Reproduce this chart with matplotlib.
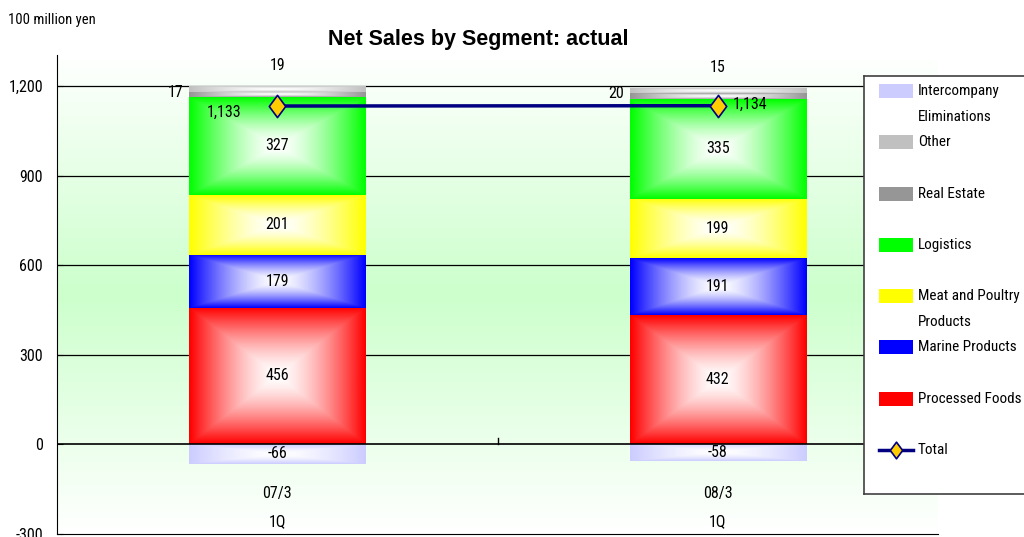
import numpy as np
import matplotlib
matplotlib.use("Agg")
import matplotlib.pyplot as plt
from matplotlib.path import Path
from matplotlib import font_manager

# data (100 million yen)
categories = ["07/3\n1Q", "08/3\n1Q"]
processed_foods = [456, 432]
marine_products = [179, 191]
meat_poultry = [201, 199]
logistics = [327, 335]
real_estate = [17, 20]
other = [19, 15]
intercompany = [-66, -58]
total = [1133, 1134]
yticks = [-300, 0, 300, 600, 900, 1200]

colors = ["#FF0000", "#0000FF", "#FFFF00", "#00FF00", "#969696", "#C0C0C0"]
inter_color = "#CCCCFF"

# a narrow sans font, like the Arial Narrow of the original
names = set(f.name for f in font_manager.fontManager.ttflist)
narrow = "DejaVu Sans"
for cand in ["Arial Narrow", "Liberation Sans Narrow", "Roboto Condensed",
             "Archivo Narrow", "Asap Condensed", "Liberation Sans"]:
    if cand in names:
        narrow = cand
        break
plt.rcParams['font.family'] = [narrow, 'DejaVu Sans']
lab_fs = 11.5 if narrow not in ("Liberation Sans", "DejaVu Sans") else 9.5


def box_gradient(color, n=120):
    # Excel style "from center" fill: edge colour outside, white in the middle
    u = np.linspace(-1, 1, n)
    uu, vv = np.meshgrid(u, u)
    t = np.maximum(np.abs(uu), np.abs(vv)) ** 1.5
    rgb = np.array(matplotlib.colors.to_rgb(color))
    img = (1 - t)[..., None] * np.ones(3) + t[..., None] * rgb
    return img


def fill_patch(ax, patch, color):
    x0, y0 = patch.get_x(), patch.get_y()
    w, h = patch.get_width(), patch.get_height()
    im = ax.imshow(box_gradient(color), extent=(x0, x0 + w, y0, y0 + h),
                   aspect='auto', zorder=3, interpolation='bilinear')
    im.set_clip_path(patch)


W, H = 1024, 537
fig = plt.figure(figsize=(W / 100, H / 100), dpi=100)
ax = fig.add_axes([57 / W, (H - 533.5) / H, (938 - 57) / W, (533.5 - 55) / H])
ax.set_xlim(-0.5, 1.5)
ax.set_ylim(-300, 1304)

# background: light green in the middle, white at top and bottom
v = np.abs(np.linspace(-1, 1, 200))[:, None]
bg = (1 - v)[..., None] * np.array(matplotlib.colors.to_rgb("#CCFFCC")) + v[..., None] * np.ones(3)
bg = np.repeat(bg, 2, axis=1)
ax.imshow(bg, extent=(0, 1, 0, 1), transform=ax.transAxes, aspect='auto', zorder=0)

for y in yticks[2:]:
    ax.axhline(y, color="black", lw=0.9, zorder=1)
ax.axhline(0, color="black", lw=1.2, zorder=5)

x = np.arange(len(categories))
width = 0.4
series = [processed_foods, marine_products, meat_poultry, logistics, real_estate, other]
bottom = np.zeros(len(categories))
mids = []
for vals, col in zip(series, colors):
    bars = ax.bar(x, vals, width, bottom=bottom, color=col, linewidth=0, zorder=2)
    for b in bars:
        fill_patch(ax, b, col)
    mids.append(bottom + np.array(vals) / 2)
    bottom = bottom + np.array(vals)
inter_bars = ax.bar(x, intercompany, width, color=inter_color, linewidth=0, zorder=2)
for b in inter_bars:
    fill_patch(ax, b, inter_color)

# values inside the main segments
for vals, m in zip(series[:4], mids[:4]):
    for i in range(len(x)):
        ax.text(x[i], m[i], f"{vals[i]}", ha='center', va='center', fontsize=lab_fs, zorder=6)
for i in range(len(x)):
    ax.text(x[i], intercompany[i] / 2, f"{intercompany[i]}", ha='center', va='center',
            fontsize=lab_fs, zorder=6)
    # real estate label left of the bar
    ax.annotate(f"{real_estate[i]}", (x[i] - width / 2, mids[4][i]), xytext=(-6, 2),
                textcoords='offset pixels', ha='right', va='center', fontsize=lab_fs, zorder=6)
    # other label above the bar
    ax.annotate(f"{other[i]}", (x[i], bottom[i]), xytext=(0, 21),
                textcoords='offset pixels', ha='center', va='center', fontsize=lab_fs, zorder=6)

# total line
diamond = Path([(0, 1), (0.74, 0), (0, -1), (-0.74, 0), (0, 1)],
               [Path.MOVETO, Path.LINETO, Path.LINETO, Path.LINETO, Path.CLOSEPOLY])
ax.plot(x, total, color="#000080", lw=2.5, marker=diamond, ms=16,
        mfc="#FFCC00", mec="#000080", mew=1.2, zorder=7)
tot_offsets = [(-53, -6), (32, 1)]
for i in range(len(x)):
    ax.annotate(f"{total[i]:,}", (x[i], total[i]), xytext=tot_offsets[i],
                textcoords='offset pixels', ha='center', va='center', fontsize=lab_fs, zorder=8)

# category labels inside the plot, below zero
for i, c in enumerate(categories):
    top_line, bot_line = c.split("\n")
    ax.text(x[i], -165, top_line, ha='center', va='center', fontsize=lab_fs, zorder=6)
    ax.text(x[i], -260, bot_line, ha='center', va='center', fontsize=lab_fs, zorder=6)
ax.plot([0.5, 0.5], [0, 20], color="black", lw=1, zorder=5)

ax.set_xticks([])
ax.set_yticks(yticks)
ax.set_yticklabels([f"{t:,}" for t in yticks], fontsize=lab_fs)
ax.tick_params(axis='y', direction='in', length=4, pad=10)
for s in ['top', 'right']:
    ax.spines[s].set_visible(False)

fig.text(478 / W, 1 - 40 / H, "Net Sales by Segment: actual", ha='center', va='center',
         fontsize=15.5, fontweight='bold', family=['Liberation Sans', 'DejaVu Sans'])
fig.text(8 / W, 1 - 20 / H, "100 million yen", ha='left', va='center', fontsize=lab_fs - 1)

# legend box drawn in pixel coordinates
leg_fs = lab_fs - 0.6
lg = fig.add_axes([864 / W, (H - 494) / H, (1040 - 864) / W, (494 - 76) / H])
lg.set_xticks([])
lg.set_yticks([])
lg.set_facecolor('white')
for s in lg.spines.values():
    s.set_color('#404040')
    s.set_linewidth(1.2)
leg_names = ["Intercompany\nEliminations", "Other", "Real Estate", "Logistics",
             "Meat and Poultry\nProducts", "Marine Products", "Processed Foods"]
leg_colors = [inter_color] + colors[::-1]
for k, (nm, col) in enumerate(zip(leg_names, leg_colors)):
    yc = 91 + k * 51.3
    r = matplotlib.patches.Rectangle((879, yc - 7), 34, 14, color=col, lw=0)
    lg.add_patch(r)
    im = lg.imshow(box_gradient(col), extent=(879, 913, yc + 7, yc - 7), aspect='auto',
                   interpolation='bilinear')
    im.set_clip_path(r)
    first, *rest = nm.split("\n")
    lg.text(918, yc, first, ha='left', va='center', fontsize=leg_fs)
    if rest:
        lg.text(918, yc + 26, rest[0], ha='left', va='center', fontsize=leg_fs)
yt = 91 + 7 * 51.3
lg.plot([879, 913], [yt, yt], color="#000080", lw=2.5)
lg.plot([896], [yt], marker=diamond, ms=12, mfc="#FFCC00", mec="#000080", mew=1.2)
lg.text(918, yt, "Total", ha='left', va='center', fontsize=leg_fs)
lg.set_xlim(864, 1040)
lg.set_ylim(494, 76)

fig.savefig("out.png", dpi=100)
